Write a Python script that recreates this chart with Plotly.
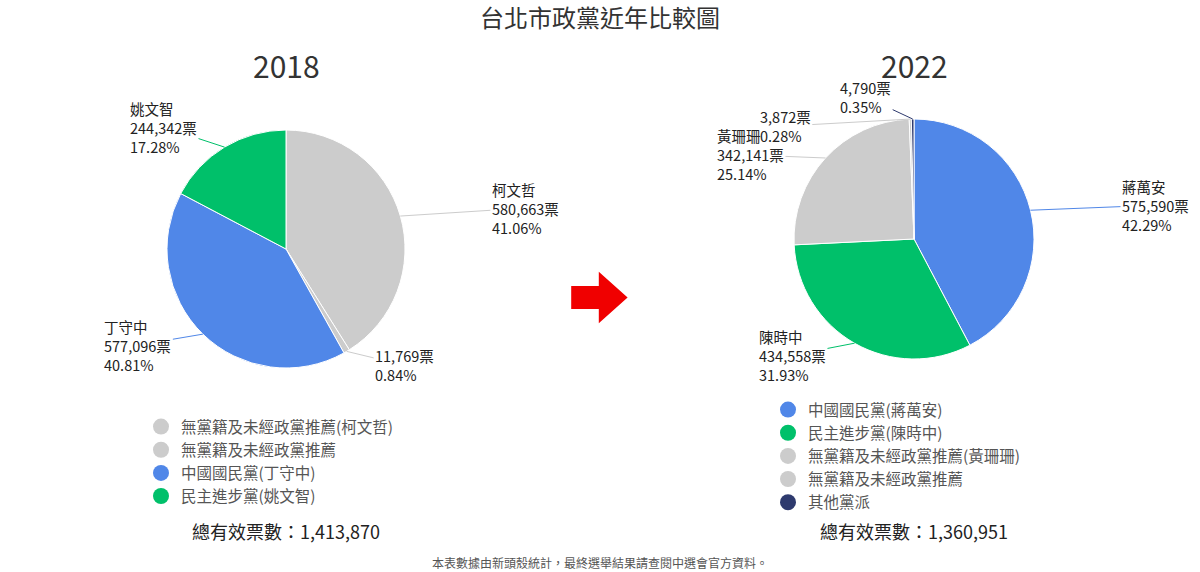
import math
import plotly.graph_objects as go

FONT = "Noto Sans CJK TC"
W, H = 1200, 572
labels18 = ["無黨籍及未經政黨推薦(柯文哲)", "無黨籍及未經政黨推薦", "中國國民黨(丁守中)", "民主進步黨(姚文智)"]
names18 = ["柯文哲", "", "丁守中", "姚文智"]
votes18 = [580663, 11769, 577096, 244342]
pct18 = ["41.06%", "0.84%", "40.81%", "17.28%"]
colors18 = ["#cccccc", "#cccccc", "#5087e8", "#00c06a"]

labels22 = ["中國國民黨(蔣萬安)", "民主進步黨(陳時中)", "無黨籍及未經政黨推薦(黃珊珊)", "無黨籍及未經政黨推薦", "其他黨派"]
names22 = ["蔣萬安", "陳時中", "黃珊珊", "", ""]
votes22 = [575590, 434558, 342141, 3872, 4790]
pct22 = ["42.29%", "31.93%", "25.14%", "0.28%", "0.35%"]
colors22 = ["#5087e8", "#00c06a", "#cccccc", "#cccccc", "#2e3a6e"]

# label offsets (px) from slice edge point to label centre
offs18 = [(125, -8), (58, 14), (-65, 11), (-61, -20)]
offs22 = [(125, -5), (-62, 12), (-75, -3), (-125, 7), (-47, -22)]

dom18 = dict(x=[167 / W, 405 / W], y=[1 - 368 / H, 1 - 130 / H])
dom22 = dict(x=[794 / W, 1034 / W], y=[1 - 359 / H, 1 - 119 / H])

def texts(names, votes, pcts):
    out = []
    for n, v, p in zip(names, votes, pcts):
        s = f"{v:,}票<br>{p}"
        out.append((n + "<br>" if n else "") + s)
    return out

fig = go.Figure()
anns = []
for labels, names, votes, pcts, colors, dom, offs, lg in [
        (labels18, names18, votes18, pct18, colors18, dom18, offs18, "legend"),
        (labels22, names22, votes22, pct22, colors22, dom22, offs22, "legend2")]:
    fig.add_trace(go.Pie(labels=labels, values=votes, textinfo="none", sort=False,
        direction="clockwise", rotation=0, showlegend=False,
        marker=dict(colors=colors, line=dict(color="white", width=1)),
        domain=dom, hoverinfo="label+value+percent"))
    cx = (dom["x"][0] + dom["x"][1]) / 2 * W
    cy = (1 - (dom["y"][0] + dom["y"][1]) / 2) * H
    r = (dom["x"][1] - dom["x"][0]) * W / 2
    tot = sum(votes)
    cum = 0
    for lab, v, col, t, (ax, ay) in zip(labels, votes, colors, texts(names, votes, pcts), offs):
        a = (cum + v / 2) / tot * 2 * math.pi
        cum += v
        px = cx + r * math.sin(a)
        py = cy - r * math.cos(a)
        anns.append(dict(x=px / W, y=1 - py / H, xref="paper", yref="paper", text=t, align="left",
                         showarrow=True, arrowhead=0, arrowwidth=1, arrowcolor=col, ax=ax, ay=ay,
                         standoff=0, font=dict(size=14.5, color="#222", family=FONT)))
    for lab, col in zip(labels, colors):
        fig.add_trace(go.Scatter(x=[None], y=[None], mode="markers", name=lab, legend=lg,
                                 marker=dict(symbol="circle", size=17, color=col)))

leg = dict(font=dict(size=15.5, color="#555", family=FONT), bgcolor="rgba(0,0,0,0)",
           xanchor="left", yanchor="top", tracegroupgap=0, itemwidth=30)
C = dict(xref="paper", yref="paper", showarrow=False, xanchor="center", yanchor="middle")
fig.update_layout(
    width=W, height=H, margin=dict(l=0, r=0, t=0, b=0, autoexpand=False),
    paper_bgcolor="white", plot_bgcolor="white", font=dict(family=FONT),
    xaxis=dict(visible=False), yaxis=dict(visible=False),
    title=dict(text="台北市政黨近年比較圖", x=0.5, y=0.968, xanchor="center", yanchor="middle",
               font=dict(size=24, color="#333", family=FONT)),
    legend=dict(x=141 / W, y=1 - 410 / H, **leg),
    legend2=dict(x=768 / W, y=1 - 393 / H, **leg),
    annotations=anns + [
        dict(text="2018", x=286 / W, y=1 - 65 / H, font=dict(size=30, color="#333", family=FONT), **C),
        dict(text="2022", x=914 / W, y=1 - 65 / H, font=dict(size=30, color="#333", family=FONT), **C),
        dict(text="總有效票數：1,413,870", x=286 / W, y=1 - 531 / H, font=dict(size=18, color="#222", family=FONT), **C),
        dict(text="總有效票數：1,360,951", x=914 / W, y=1 - 531 / H, font=dict(size=18, color="#222", family=FONT), **C),
        dict(text="本表數據由新頭殼統計，最終選舉結果請查閱中選會官方資料。", x=0.5, y=1 - 562 / H, font=dict(size=12, color="#555", family=FONT), **C),
    ],
    shapes=[dict(type="path", xref="paper", yref="paper", fillcolor="#f00000", line=dict(width=0),
                 path="M 0.476 0.50 L 0.499 0.50 L 0.499 0.525 L 0.523 0.48 L 0.499 0.435 L 0.499 0.46 L 0.476 0.46 Z")],
)
fig.write_html("out.html", config={"displayModeBar": False}, post_script="document.body.style.margin='0';")
